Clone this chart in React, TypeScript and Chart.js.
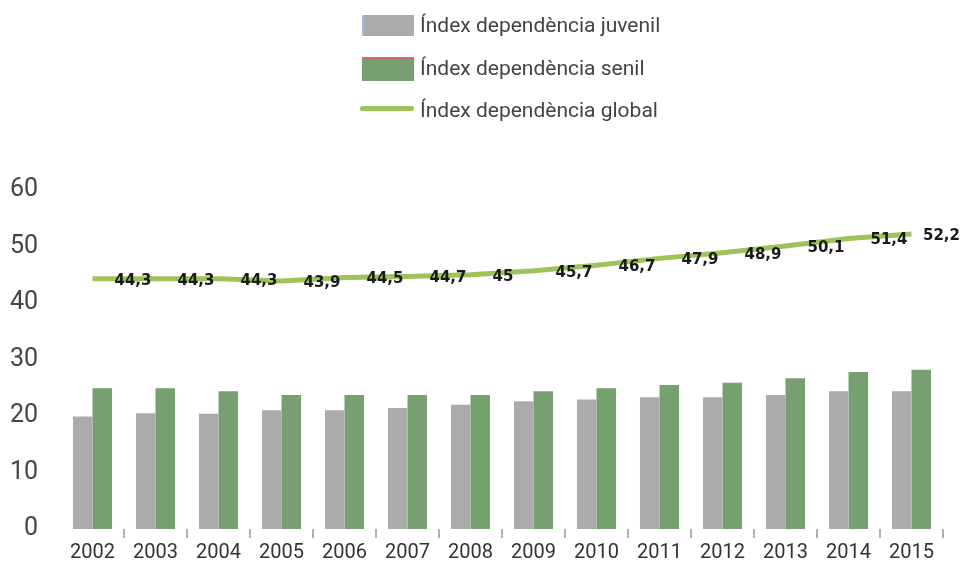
import React, { useEffect, useRef } from "react";
import { Chart, registerables } from "chart.js";

Chart.register(...registerables);

const years = ["2002", "2003", "2004", "2005", "2006", "2007", "2008", "2009", "2010", "2011", "2012", "2013", "2014", "2015"];
const juvenil = [19.9, 20.5, 20.4, 21.0, 21.0, 21.4, 22.0, 22.6, 22.9, 23.3, 23.3, 23.7, 24.4, 24.4];
const senil = [24.9, 24.9, 24.4, 23.7, 23.7, 23.7, 23.7, 24.4, 24.9, 25.5, 25.9, 26.7, 27.8, 28.2];
const globalIdx = [44.3, 44.3, 44.3, 43.9, 44.5, 44.7, 45, 45.7, 46.7, 47.9, 48.9, 50.1, 51.4, 52.2];
const yTicks = [0, 10, 20, 30, 40, 50, 60];
const legendLabels = ["Índex dependència juvenil", "Índex dependència senil", "Índex dependència global"];

const GRAY = "#ababab";
const GREEN = "#76a070";
const LINE = "#9dc35a";

const lineLabelPlugin = {
  id: "lineLabels",
  afterDatasetsDraw(chart: any) {
    const meta = chart.getDatasetMeta(2);
    const ctx = chart.ctx;
    ctx.save();
    ctx.font = "bold 15px 'DejaVu Sans'";
    ctx.fillStyle = "#1a1a1a";
    ctx.textBaseline = "middle";
    ctx.textAlign = "left";
    meta.data.forEach((pt: any, i: number) => {
      const txt = String(globalIdx[i]).replace(".", ",");
      const w = ctx.measureText(txt).width;
      const x = Math.min(pt.x + 22, chart.width - w - 10);
      ctx.fillText(txt, x, pt.y + 2);
    });
    ctx.restore();
  },
};

export default function App() {
  const ref = useRef<HTMLCanvasElement | null>(null);

  useEffect(() => {
    if (!ref.current) return;
    const chart = new Chart(ref.current, {
      type: "bar",
      data: {
        labels: years,
        datasets: [
          {
            type: "bar",
            label: legendLabels[0],
            data: juvenil,
            backgroundColor: GRAY,
            borderWidth: 0,
            order: 1,
            categoryPercentage: 0.62,
            barPercentage: 1.0,
          },
          {
            type: "bar",
            label: legendLabels[1],
            data: senil,
            backgroundColor: GREEN,
            borderWidth: 0,
            order: 1,
            categoryPercentage: 0.62,
            barPercentage: 1.0,
          },
          {
            type: "line",
            label: legendLabels[2],
            data: globalIdx,
            borderColor: LINE,
            backgroundColor: LINE,
            borderWidth: 5,
            pointRadius: 0,
            tension: 0,
            order: 0,
          } as any,
        ],
      },
      options: {
        responsive: false,
        animation: false,
        layout: { padding: { top: 190, right: 27, left: 0, bottom: 0 } },
        plugins: {
          legend: { display: false },
          tooltip: { enabled: false },
          title: { display: false },
        },
        scales: {
          x: {
            offset: true,
            border: { display: false },
            grid: {
              display: true,
              offset: true,
              drawOnChartArea: false,
              drawTicks: true,
              tickLength: 9,
              lineWidth: 2,
              color: (c: any) => {
                const n = years.length;
                return c.index === 0 || c.index === n ? "rgba(0,0,0,0)" : "#b0b0b0";
              },
            },
            ticks: {
              autoSkip: false,
              maxRotation: 0,
              minRotation: 0,
              padding: 3,
              color: "#333333",
              font: { family: "Roboto", size: 20 },
            },
            afterFit: (s: any) => {
              s.height = 39;
            },
          },
          y: {
            min: 0,
            max: 60,
            border: { display: false },
            grid: { display: false },
            afterBuildTicks: (s: any) => {
              s.ticks = yTicks.map((v) => ({ value: v }));
            },
            ticks: {
              padding: 15,
              color: "#444444",
              font: { family: "Roboto", size: 25 },
            },
            afterFit: (s: any) => {
              s.width = 61;
            },
          },
        },
      },
      plugins: [lineLabelPlugin],
    });
    return () => chart.destroy();
  }, []);

  const textStyle: React.CSSProperties = {
    position: "absolute",
    left: 420,
    fontFamily: "Roboto",
    fontSize: 21,
    color: "#444444",
    lineHeight: "24px",
    whiteSpace: "nowrap",
  };

  return (
    <div style={{ position: "fixed", left: 0, top: 0, width: 970, height: 568, background: "#ffffff" }}>
      <canvas ref={ref} width={970} height={568} style={{ width: 970, height: 568, display: "block" }} />
      <div style={{ position: "absolute", left: 362, top: 15, width: 52, height: 21, background: GRAY, borderLeft: "2px solid #9fbde6", boxSizing: "border-box" }} />
      <div style={{ ...textStyle, top: 13 }}>{legendLabels[0]}</div>
      <div style={{ position: "absolute", left: 362, top: 57, width: 52, height: 24, background: GREEN, borderTop: "3px solid #d06b6b", boxSizing: "border-box" }} />
      <div style={{ ...textStyle, top: 56 }}>{legendLabels[1]}</div>
      <div style={{ position: "absolute", left: 360, top: 106, width: 54, height: 5, background: LINE, borderRadius: 2 }} />
      <div style={{ ...textStyle, top: 98 }}>{legendLabels[2]}</div>
    </div>
  );
}
